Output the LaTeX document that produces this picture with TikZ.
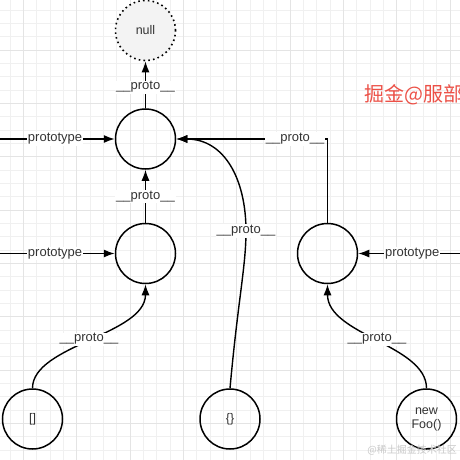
\documentclass[tikz,border=0pt]{standalone}
\usepackage{fontspec}
\setmainfont{Liberation Sans}
\newfontfamily\cjk{Noto Sans CJK SC}
\usetikzlibrary{arrows.meta}
\definecolor{txt}{RGB}{51,51,51}
\definecolor{nullfill}{RGB}{243,243,243}
\definecolor{gridminor}{RGB}{240,240,240}
\definecolor{gridmajor}{RGB}{228,228,228}
\definecolor{redtxt}{RGB}{236,81,71}
\definecolor{wmtxt}{RGB}{200,200,200}
\begin{document}
\begin{tikzpicture}[x=1pt,y=-1pt,
  obj/.style={circle,draw=black,line width=1.5pt,minimum size=60pt,inner sep=0pt,
    font=\fontsize{12.5}{14}\selectfont,text=txt},
  nullnode/.style={obj,fill=nullfill,line width=1.6pt,dash pattern=on 1.6pt off 3.2pt},
  conn/.style={line width=1.4pt,-{Latex[length=11pt,width=8pt]}},
  lbl/.style={fill=white,inner sep=1pt,font=\fontsize{13}{15}\selectfont,text=txt},
  minorline/.style={draw=gridminor,line width=0.8pt},
  majorline/.style={draw=gridmajor,line width=0.9pt}]
\useasboundingbox (0,0) rectangle (460,460);
\clip (0,0) rectangle (460,460);
\fill[white] (0,0) rectangle (460,460);
% grid
\foreach \i in {-1,...,34} {
  \draw[minorline] ({10+\i*13.3333},0) -- ++(0,460);
  \draw[minorline] (0,{10+\i*13.3333}) -- ++(460,0);
}
\foreach \i in {0,...,8} {
  \draw[majorline] ({23.3333+\i*53.3333},0) -- ++(0,460);
  \draw[majorline] (0,{-3.3333+\i*53.3333}) -- ++(460,0);
}
% nodes
\node[nullnode] (nul) at (145.5,30.5) {null};
\node[obj] (o1) at (145.5,139) {};
\node[obj] (o2) at (145.5,253.5) {};
\node[obj] (o3) at (327.5,253.5) {};
\node[obj] (arr) at (32.5,419) {[]};
\node[obj] (objl) at (230,419) {\{\}};
\node[obj,align=center] (foo) at (426.5,419) {new\\Foo()};
\coordinate (L1) at (0,139);
\coordinate (L2) at (0,253.5);
\coordinate (R3) at (460,253.5);
% connectors
\draw[conn] (o1) -- node[lbl,pos=0.45]{\_\_proto\_\_} (nul);
\draw[conn] (o2) -- node[lbl]{\_\_proto\_\_} (o1);
\draw[conn] (L1) -- node[lbl,pos=0.48]{prototype} (o1.west);
\draw[conn] (L2) -- node[lbl,pos=0.48]{prototype} (o2.west);
\draw[conn] (R3) -- node[lbl,pos=0.47]{prototype} (o3.east);
\draw[conn] (o3.north) |- node[lbl,pos=0.607]{\_\_proto\_\_} (o1.east);
\draw[conn] (objl.north) .. controls (238,300) and (246,266) .. (246,231)
  node[lbl]{\_\_proto\_\_} .. controls (246,180) and (225,139) .. (o1.east);
\draw[conn] (arr.north) .. controls (32.5,345) and (145.5,335) ..
  node[lbl]{\_\_proto\_\_} (o2.south);
\draw[conn] (foo.north) .. controls (426.5,345) and (327.5,335) ..
  node[lbl]{\_\_proto\_\_} (o3.south);
% texts
\node[text=redtxt,font=\cjk\fontsize{20}{24}\selectfont,anchor=west,inner sep=0pt] (wmark) at (364,95) {掘金@服部};
\node[text=wmtxt,font=\cjk\fontsize{10}{12}\selectfont,anchor=east,inner sep=0pt] (site) at (457,450) {@稀土掘金技术社区};
\end{tikzpicture}
\end{document}
